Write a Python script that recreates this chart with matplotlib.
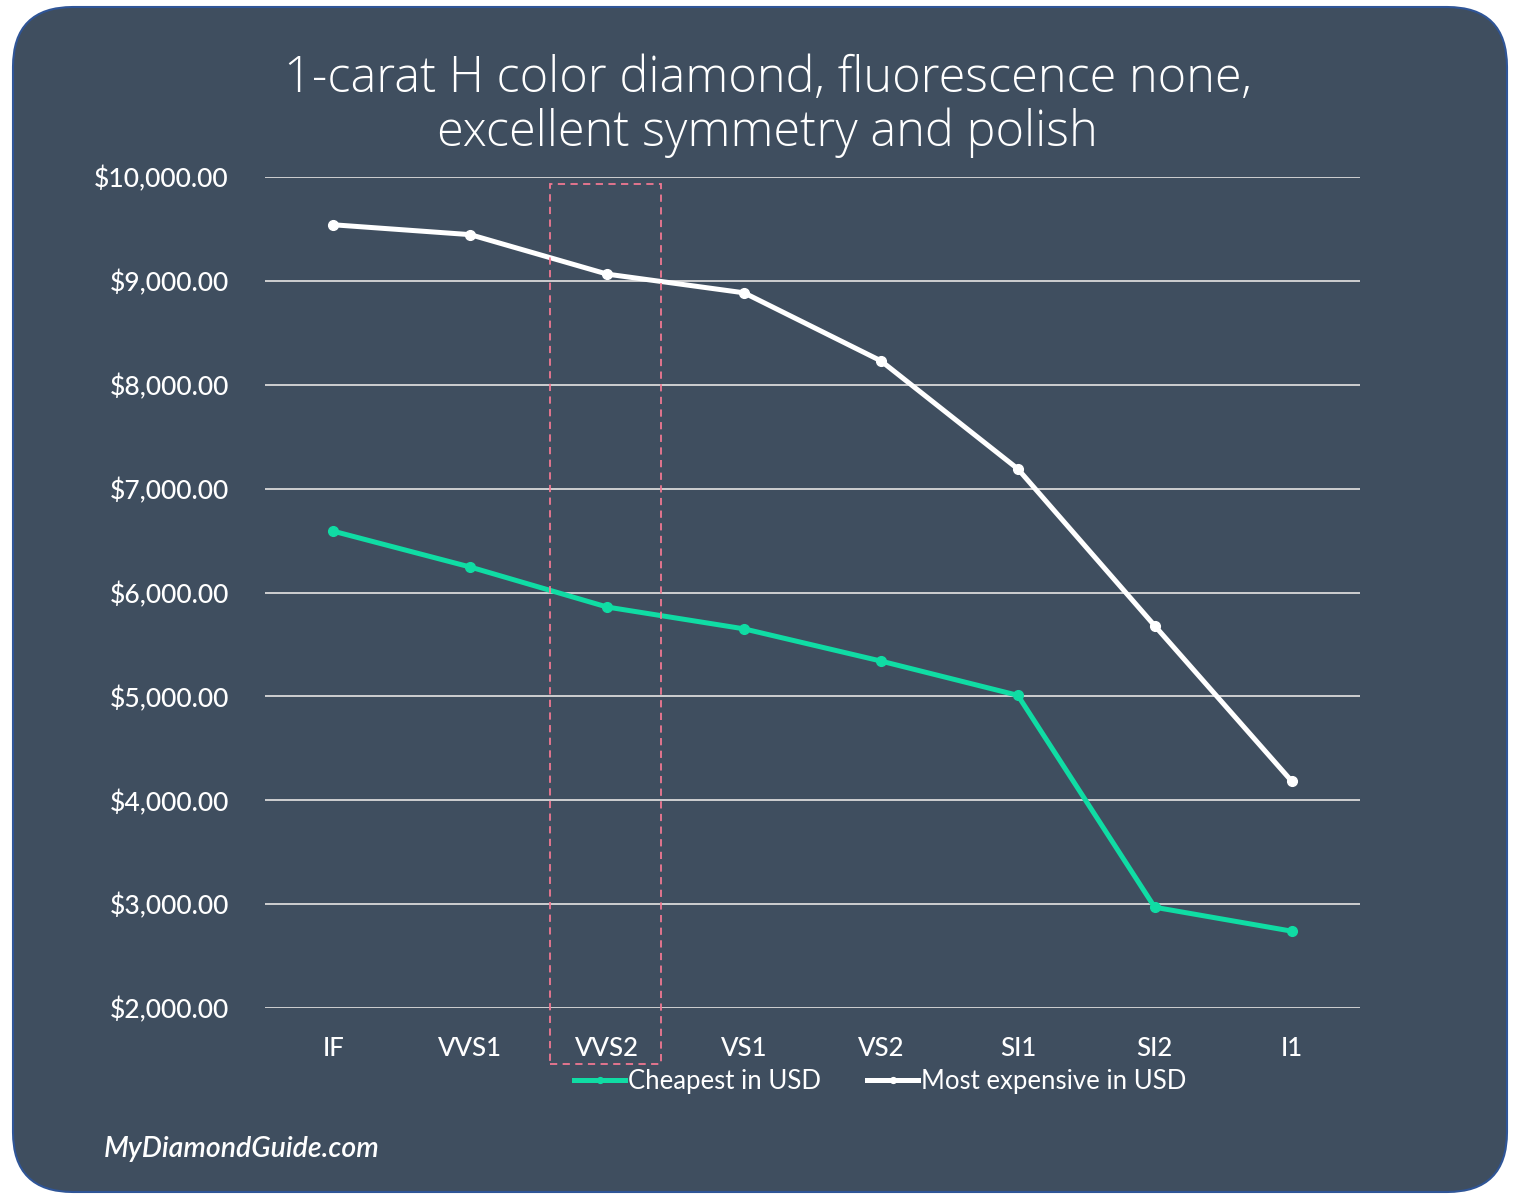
import matplotlib
matplotlib.use("Agg")
import matplotlib.pyplot as plt
from matplotlib.patches import FancyBboxPatch, Rectangle
from matplotlib.ticker import FuncFormatter

# data
grades = ["IF", "VVS1", "VVS2", "VS1", "VS2", "SI1", "SI2", "I1"]
cheapest = [6590, 6245, 5860, 5650, 5340, 5010, 2970, 2740]
most_expensive = [9540, 9445, 9065, 8885, 8230, 7190, 5680, 4185]

bg = "#3F4E5F"
green = "#10DCA4"
tick_font = "Lato"

fig = plt.figure(figsize=(15.2, 12.04), dpi=100)
fig.patch.set_facecolor("white")

# rounded background panel (inches)
panel = FancyBboxPatch((0.13, 0.12), 14.94, 11.85,
                       boxstyle="round,pad=0,rounding_size=0.6",
                       transform=fig.dpi_scale_trans,
                       facecolor=bg, edgecolor="#2F5597", linewidth=1.5,
                       zorder=-10)
fig.add_artist(panel)

ax = fig.add_axes([265 / 1520, 1 - 1008 / 1204, 1095 / 1520, 831 / 1204])
ax.set_facecolor("none")
ax.set_zorder(1)

x = range(len(grades))
ax.plot(x, cheapest, color=green, lw=3.6, marker="o", ms=7,
        label="Cheapest in USD", zorder=3)
ax.plot(x, most_expensive, color="white", lw=3.6, marker="o", ms=7,
        label="Most expensive in USD", zorder=3)

ax.set_xlim(-0.5, len(grades) - 0.5)
ax.set_ylim(2000, 10000)
ax.set_yticks(range(2000, 10001, 1000))
ax.yaxis.set_major_formatter(FuncFormatter(lambda v, p: "${:,.2f}".format(v)))
ax.set_xticks(list(x))
ax.set_xticklabels(grades)
ax.grid(axis="y", color="#D9D9D9", lw=1.3)
ax.set_axisbelow(True)
for s in ax.spines.values():
    s.set_visible(False)
ax.tick_params(length=0, colors="white", labelsize=18.5)
ax.tick_params(axis="y", pad=26, labelsize=19)
ax.tick_params(axis="x", pad=20)
for lab in ax.get_xticklabels() + ax.get_yticklabels():
    lab.set_fontfamily(tick_font)
    lab.set_fontweight("medium")
    lab.set_color("white")

# dashed highlight around VVS2
hl = Rectangle((1.58, 1460), 0.81, 9930 - 1460, fill=False,
               edgecolor="#F07891", lw=1.3, ls=(0, (4, 3)), clip_on=False,
               zorder=4)
ax.add_patch(hl)

fig.text(0.505, 0.912, "1-carat H color diamond, fluorescence none,\nexcellent symmetry and polish",
         ha="center", va="center", color="white", fontsize=35,
         fontfamily="Open Sans", fontweight="light", linespacing=1.1)

leg = fig.legend(loc="center", bbox_to_anchor=(0.579, 0.102), ncol=2,
                 frameon=False, handlelength=2.0, handletextpad=0.1,
                 columnspacing=1.8, markerscale=0.6,
                 prop={"family": tick_font, "size": 18.5})
for t in leg.get_texts():
    t.set_color("white")

fig.text(0.068, 0.046, "MyDiamondGuide.com", color="white", fontsize=20.5,
         style="italic", fontweight="semibold", fontfamily=tick_font,
         ha="left", va="center")

fig.savefig("out.png", dpi=100, facecolor=fig.get_facecolor())
